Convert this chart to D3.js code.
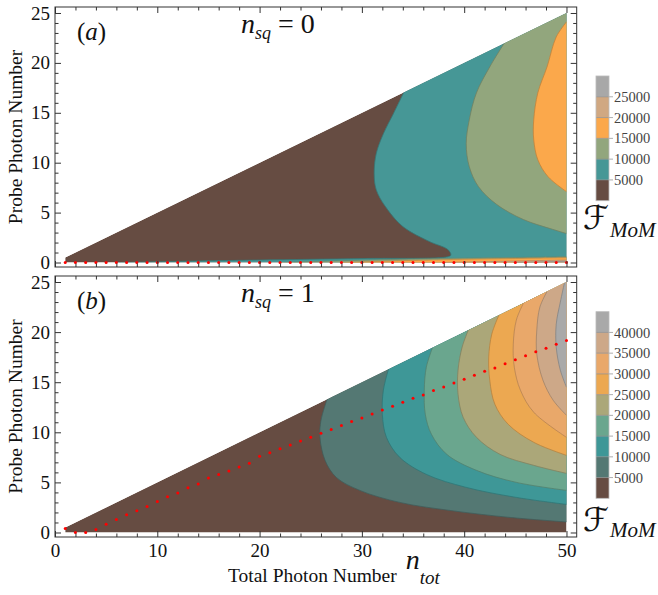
<!DOCTYPE html>
<html>
<head>
<meta charset="utf-8">
<script src="https://cdn.jsdelivr.net/npm/d3@7"></script>
<style>
body { margin: 0; background: #fff; }
text { font-family: "Liberation Serif", "Times New Roman", serif; }
</style>
</head>
<body>
<div id="graph"></div>
<script>
WIDTH = 658;
HEIGHT = 595;

// --- data ---
var nTot = [1,2,3,4,5,6,7,8,9,10,11,12,13,14,15,16,17,18,19,20,21,22,23,24,25,
            26,27,28,29,30,31,32,33,34,35,36,37,38,39,40,41,42,43,44,45,46,47,48,49,50];
// optimal probe photon number (red dots)
var probeOptA = [0,0,0,0,0,0,0,0,0,0,0,0,0,0,0,0,0,0,0,0,0,0,0,0,0,
                 0,0,0,0,0,0,0,0,0,0,0,0,0,0,0,0,0,0,0,0,0,0,0,0,0];
var probeOptB = [0.4,0,0,0.3,0.83,1.3,1.77,2.17,2.6,3.1,3.57,3.93,4.47,4.83,5.43,5.8,6.13,6.53,6.9,7.6,
                 7.97,8.37,8.73,9.13,9.5,9.9,10.27,10.67,11.07,11.43,11.83,12.23,12.6,13.0,13.4,13.73,14.17,14.53,14.93,15.3,
                 15.7,16.1,16.43,16.83,17.23,17.63,18.03,18.4,18.8,19.17];

var xTicks = [0, 10, 20, 30, 40, 50];
var yTicks = [0, 5, 10, 15, 20, 25];
var domainCorners = [[1, 0], [1, 0.5], [50, 25], [50, 0]];

// colour bar levels and colours
var levelsA = [5000, 10000, 15000, 20000, 25000];
var coloursA = ['#664c42', '#469796', '#92a67d', '#fba84b', '#d0a882', '#a8a8a8'];
var levelsB = [5000, 10000, 15000, 20000, 25000, 30000, 35000, 40000];
var coloursB = ['#664c42', '#547873', '#3e9797', '#6aa68e', '#aba779', '#eca851', '#e9a86a', '#cda888', '#a9a9a9'];

// contour boundaries, panel (a)  [n_tot, probe]
var boundA5000 = [[34.1,17.05],[33.1,14.95],[32.1,12.9],[31.4,10.9],[31.2,8.9],[31.4,7.3],[32.3,5.6],
                  [34.0,3.6],[36.6,2.1],[38.4,1.3],[38.7,0.75],[38.4,0.58],[30,0.4],[20,0.25],[14,0.15],[6,0]];
var boundA10000 = [[43.9,21.95],[42.5,19.6],[41.2,17.0],[40.5,14.3],[40.2,11.9],[40.5,9.6],[41.4,7.6],
                   [43.2,5.8],[45.8,4.3],[48.4,3.4],[50,2.9]];
var boundA15000 = [[50,24.1],[49.0,22.6],[48.1,19.6],[47.2,17.0],[46.8,14.3],[46.8,12.3],[47.2,10.3],
                   [48.2,8.6],[50,7.1]];
// thin bands near probe = 0, panel (a)
var stripA10000 = [[22,0],[35,0.35],[45,0.5],[50,0.58]];
var stripA15000 = [[28,0],[38,0.28],[45,0.4],[50,0.48]];
var stripA20000 = [[38,0],[45,0.15],[50,0.25]];
var stripA25000 = [[45,0],[50,0.12]];

// contour boundaries, panel (b)
var boundB5000 = [[26.6,13.3],[26.0,11.2],[25.9,9.5],[26.4,7.2],[27.5,5.5],[29.8,4.2],[33.7,3.0],[38.6,2.2],[44.5,1.5],[50,1.05]];
var boundB10000 = [[32.6,16.3],[32.1,14.2],[32.0,11.8],[32.4,9.5],[33.7,7.5],[36.3,5.8],[40.2,4.5],[45.1,3.5],[50,2.8]];
var boundB15000 = [[36.9,18.45],[36.3,16.5],[36.1,14.2],[36.2,11.8],[36.8,9.8],[38.3,7.8],[41.2,6.2],[45.1,5.0],[50,4.2]];
var boundB20000 = [[40.4,20.2],[39.8,18.5],[39.4,16.2],[39.4,13.8],[39.9,11.5],[41.2,9.5],[43.5,7.8],[46.8,6.7],[50,5.9]];
var boundB25000 = [[43.4,21.7],[42.7,19.8],[42.4,17.5],[42.5,15.2],[43.0,12.8],[44.3,10.8],[46.8,9.0],[50,7.7]];
var boundB30000 = [[45.8,22.9],[45.1,21.2],[44.8,18.8],[44.9,16.5],[45.5,14.2],[46.8,12.0],[50,9.5]];
var boundB35000 = [[48.1,24.05],[47.4,22.5],[47.1,20.2],[47.1,17.8],[47.7,15.2],[48.7,13.2],[50,11.7]];
var boundB40000 = [[49.8,24.9],[49.4,23],[49.0,20.8],[49.0,18.5],[49.4,16.2],[50,14.5]];

var svg = d3.select("#graph").append("svg").attr("width", WIDTH).attr("height", HEIGHT);

var x = d3.scaleLinear().domain([0, 51]).range([55, 576.7]);

drawPanel({
	id: 'a', top: 7, bottom: 267, label: 'a', nsq: '0',
	colours: coloursA, levels: levelsA,
	bounds: [boundA5000, boundA10000, boundA15000],
	strips: [[2, stripA10000], [3, stripA15000], [4, stripA20000], [5, stripA25000]],
	dots: probeOptA,
	cb: {top: 76, bottom: 200.7, max: 30000},
	fy: 229, my: 236.5
});
drawPanel({
	id: 'b', top: 276, bottom: 537, label: 'b', nsq: '1',
	colours: coloursB, levels: levelsB,
	bounds: [boundB5000, boundB10000, boundB15000, boundB20000, boundB25000, boundB30000, boundB35000, boundB40000],
	strips: [],
	dots: probeOptB,
	cb: {top: 311.7, bottom: 498.3, max: 45000},
	fy: 531, my: 537
});

// x axis title
var xt = svg.append("text").attr("x", 228).attr("y", 581.5).attr("font-size", 19.5).attr("fill", "#111")
	.text("Total Photon Number");
xt.append("tspan").attr("dx", 9).attr("dy", -13).attr("font-size", 28).attr("font-style", "italic").text("n");
xt.append("tspan").attr("dy", 15).attr("font-size", 19).attr("font-style", "italic").text("tot");

function drawPanel(p) {
	var y = d3.scaleLinear().domain([-0.45, 25.6]).range([p.bottom, p.top]);
	var g = svg.append("g");

	var clipId = 'clip' + p.id;
	g.append("clipPath").attr("id", clipId)
		.append("polygon")
		.attr("points", domainCorners.map(function(d) { return x(d[0]) + ',' + y(d[1]); }).join(' '));

	var plot = g.append("g").attr("clip-path", "url(#" + clipId + ")");
	var line = d3.line()
		.x(function(d) { return x(d[0]); })
		.y(function(d) { return y(d[1]); })
		.curve(d3.curveCatmullRom.alpha(0.5));

	// lowest level fills the whole domain
	plot.append("polygon")
		.attr("points", domainCorners.map(function(d) { return x(d[0]) + ',' + y(d[1]); }).join(' '))
		.attr("fill", p.colours[0]);

	// region to the right of each boundary
	p.bounds.forEach(function(b, i) {
		var last = b[b.length - 1];
		var d = line(b) + 'L' + x(52) + ',' + y(last[1]) + 'L' + x(52) + ',' + y(30) + 'Z';
		plot.append("path").attr("d", d).attr("fill", p.colours[i + 1]);
	});
	// thin bands hugging probe = 0
	p.strips.forEach(function(s) {
		var b = s[1], last = b[b.length - 1];
		var d = line(b) + 'L' + x(52) + ',' + y(last[1]) + 'L' + x(52) + ',' + y(-1) + 'L' + x(b[0][0]) + ',' + y(-1) + 'Z';
		plot.append("path").attr("d", d).attr("fill", p.colours[s[0]]);
	});
	// contour lines
	p.bounds.forEach(function(b, i) {
		plot.append("path").attr("d", line(b)).attr("fill", "none")
			.attr("stroke", d3.color(p.colours[i + 1]).darker(0.7)).attr("stroke-width", 0.8);
	});
	p.strips.forEach(function(s) {
		plot.append("path").attr("d", line(s[1])).attr("fill", "none")
			.attr("stroke", d3.color(p.colours[s[0]]).darker(0.7)).attr("stroke-width", 0.6);
	});

	// optimal probe number
	g.append("g").selectAll("circle")
		.data(nTot)
		.enter()
		.append("circle")
		.attr("cx", function(d) { return x(d); })
		.attr("cy", function(d, i) { return y(p.dots[i]); })
		.attr("r", 1.5)
		.attr("fill", "#f00");

	// frame with inward ticks
	var minorX = [2,4,6,8,12,14,16,18,22,24,26,28,32,34,36,38,42,44,46,48];
	var minorY = [1,2,3,4,6,7,8,9,11,12,13,14,16,17,18,19,21,22,23,24];
	var axes = [
		[d3.axisBottom(x), p.bottom, 'x', true],
		[d3.axisTop(x), p.top, 'x', false],
		[d3.axisLeft(y), 55, 'y', true],
		[d3.axisRight(y), 576.7, 'y', false]
	];
	axes.forEach(function(a) {
		var isX = a[2] === 'x';
		var major = a[0].tickValues(isX ? xTicks : yTicks).tickSizeInner(-6).tickSizeOuter(0).tickPadding(isX ? 7 : 5);
		if (!a[3] || (isX && p.id === 'a')) major.tickFormat('');
		var ga = g.append("g")
			.attr("transform", isX ? "translate(0," + a[1] + ")" : "translate(" + a[1] + ",0)")
			.call(major);
		ga.select(".domain").remove();
		ga.selectAll("line").attr("stroke", "#333");
		ga.selectAll("text").attr("font-size", 19).attr("fill", "#111")
			.attr("font-family", '"Liberation Serif", serif');

		var minorAxis = (isX ? (a[1] === p.bottom ? d3.axisBottom(x) : d3.axisTop(x)) : (a[1] === 55 ? d3.axisLeft(y) : d3.axisRight(y)))
			.tickValues(isX ? minorX : minorY).tickSizeInner(-3.5).tickSizeOuter(0).tickFormat('');
		var gm = g.append("g")
			.attr("transform", isX ? "translate(0," + a[1] + ")" : "translate(" + a[1] + ",0)")
			.call(minorAxis);
		gm.select(".domain").remove();
		gm.selectAll("line").attr("stroke", "#333");
	});
	g.append("rect")
		.attr("x", 55).attr("y", p.top)
		.attr("width", 576.7 - 55).attr("height", p.bottom - p.top)
		.attr("fill", "none").attr("stroke", "#333").attr("stroke-width", 1);

	// y title
	g.append("text")
		.attr("transform", "translate(21.5," + ((p.top + p.bottom) / 2) + ") rotate(-90)")
		.attr("text-anchor", "middle").attr("font-size", 19.5).attr("fill", "#111")
		.text("Probe Photon Number");

	// panel tag and n_sq
	var tag = g.append("text").attr("x", 77).attr("y", p.top + 33).attr("font-size", 25).attr("fill", "#111").text("(");
	tag.append("tspan").attr("font-style", "italic").text(p.label);
	tag.append("tspan").text(")");

	var ns = g.append("text").attr("x", 241).attr("y", p.top + 26).attr("font-size", 28).attr("fill", "#111");
	ns.append("tspan").attr("font-style", "italic").text("n");
	ns.append("tspan").attr("font-style", "italic").attr("font-size", 18).attr("dy", 6).text("sq");
	ns.append("tspan").attr("dy", -6).text(" = " + p.nsq);

	// colour bar
	var cb = d3.scaleLinear().domain([0, p.cb.max]).range([p.cb.bottom, p.cb.top]);
	var cg = g.append("g");
	p.colours.forEach(function(c, i) {
		cg.append("rect")
			.attr("x", 596).attr("y", cb((i + 1) * 5000))
			.attr("width", 13).attr("height", cb(i * 5000) - cb((i + 1) * 5000))
			.attr("fill", c);
	});
	cg.selectAll("line.sep")
		.data(p.levels)
		.enter()
		.append("line")
		.attr("x1", 596).attr("x2", 613)
		.attr("y1", function(d) { return cb(d); }).attr("y2", function(d) { return cb(d); })
		.attr("stroke", "#8a8a8a").attr("stroke-width", 0.7);
	cg.append("rect")
		.attr("x", 596).attr("y", p.cb.top)
		.attr("width", 13).attr("height", p.cb.bottom - p.cb.top)
		.attr("fill", "none").attr("stroke", "#bbb").attr("stroke-width", 0.8);
	cg.selectAll("text")
		.data(p.levels)
		.enter()
		.append("text")
		.attr("x", 614).attr("y", function(d) { return cb(d); })
		.attr("dy", "0.35em")
		.attr("font-size", 14.5).attr("fill", "#444")
		.text(function(d) { return d; });

	var fl = g.append("text").attr("x", 583).attr("y", p.fy).attr("fill", "#111");
	fl.append("tspan").attr("font-family", '"DejaVu Serif", "DejaVu Sans", serif').attr("font-size", 33).text("\u2131");
	fl.append("tspan").attr("font-style", "italic").attr("font-size", 21).attr("x", 610).attr("y", p.my).text("MoM");
}
</script>
</body>
</html>
